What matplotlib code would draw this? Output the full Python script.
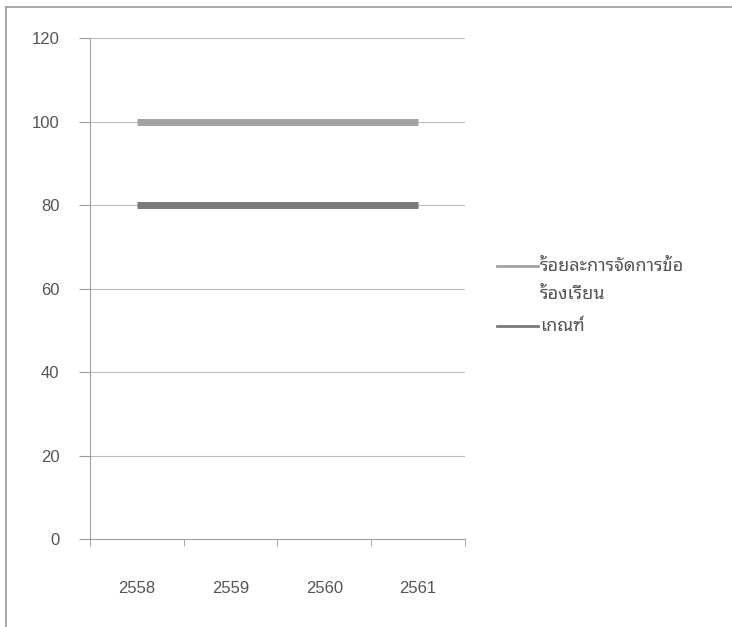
import matplotlib
matplotlib.use("Agg")
import matplotlib.pyplot as plt
from matplotlib import font_manager
from matplotlib.ft2font import FT2Font
from matplotlib.lines import Line2D

# Yearly complaint-handling rate against the target threshold
years = ["2558", "2559", "2560", "2561"]
handled_pct = [100, 100, 100, 100]
target_pct = [80, 80, 80, 80]
series_names = ["ร้อยละการจัดการข้อ\nร้องเรียน", "เกณฑ์"]
series_colors = ["#a3a3a3", "#7a7a7a"]
y_ticks = [0, 20, 40, 60, 80, 100, 120]


def find_thai_fonts():
    # every installed font that can draw Thai letters
    found = []
    for path in font_manager.findSystemFonts():
        try:
            cmap = FT2Font(path).get_charmap()
        except Exception:
            continue
        if 0x0E23 in cmap and 0x0E13 in cmap:
            found.append(path)
    return found


thai_names = []
for p in find_thai_fonts():
    font_manager.fontManager.addfont(p)
    name = font_manager.FontProperties(fname=p).get_name()
    if name not in thai_names:
        thai_names.append(name)
preferred = [n for n in thai_names if "Noto Sans Thai" in n] or thai_names
thai_family = preferred[:1] + ["DejaVu Sans"]

fig = plt.figure(figsize=(7.32, 6.27), dpi=100)
ax = fig.add_axes([0.123, 0.140, 0.512, 0.799])

x = range(len(years))
for vals, col in zip([handled_pct, target_pct], series_colors):
    ax.plot(x, vals, color=col, lw=5, solid_capstyle="butt")

ax.set_xlim(-0.5, len(years) - 0.5)
ax.set_ylim(0, 120)
ax.set_yticks(y_ticks)
ax.set_xticks(x)
ax.set_xticklabels(years)
# category boundaries get the tick marks, labels sit in the middle
ax.set_xticks([i - 0.5 for i in range(len(years) + 1)], minor=True)
ax.tick_params(axis="x", which="major", length=0, pad=30, labelsize=12, labelcolor="#555555")
ax.tick_params(axis="x", which="minor", length=5, color="#999999", direction="out")
ax.tick_params(axis="y", length=8, color="#999999", pad=14, labelsize=12, labelcolor="#555555")
for lab in ax.get_xticklabels() + ax.get_yticklabels():
    lab.set_family("Liberation Sans")

ax.grid(axis="y", color="#bdbdbd", lw=0.8)
ax.set_axisbelow(True)
for side in ["top", "right"]:
    ax.spines[side].set_visible(False)
ax.spines["left"].set_color("#a0a0a0")
ax.spines["bottom"].set_color("#a0a0a0")

# legend drawn by hand so the key line sits beside the first text row
legend_y = [0.576, 0.480]
row_step = 0.045
for label, col, ly in zip(series_names, series_colors, legend_y):
    fig.add_artist(Line2D([0.679, 0.735], [ly, ly], color=col, lw=2))
    for i, row in enumerate(label.split("\n")):
        fig.text(0.738, ly - i * row_step, row, family=thai_family, fontsize=13,
                 color="#555555", ha="left", va="center")

# scanned frame edges along the top and left
fig.add_artist(Line2D([0.008, 1.0], [0.989, 0.989], color="#9a9a9a", lw=1.2))
fig.add_artist(Line2D([0.008, 0.008], [0.0, 0.989], color="#9a9a9a", lw=1.2))

fig.savefig("out.png", dpi=100)
